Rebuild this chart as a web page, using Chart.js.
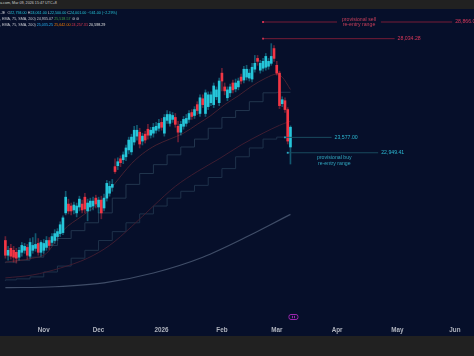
<!DOCTYPE html>
<html>
<head>
<meta charset="utf-8">
<script src="https://cdn.jsdelivr.net/npm/chart.js@4.4.1/dist/chart.umd.min.js"></script>
<style>
  html, body { margin:0; padding:0; background:#212121; width:474px; height:356px; overflow:hidden; }
  #wrap { position:absolute; left:0; top:9px; width:474px; height:327px; background:#060f2a; }
  canvas { display:block; }
  .hdr { position:absolute; left:0; white-space:nowrap; font-family:"Liberation Sans", Arial, sans-serif; font-size:3.7px; line-height:4px; color:#c9cbd1; }
</style>
</head>
<body>
<div id="wrap"><canvas id="c" width="474" height="327"></canvas></div>
<div class="hdr" style="top:1px;color:#d0d0d0">a.com, Mar 09, 2026 15:47 UTC+8</div>
<div class="hdr" style="top:11px">.JE &nbsp;<span>O</span><span style="color:#26c6da">22,794.00</span> <span>H</span><span style="color:#26c6da">24,061.00</span> <span>L</span><span style="color:#26c6da">22,500.00</span> <span>C</span><span style="color:#26c6da">24,001.00</span> <span style="color:#26c6da">−561.00 (−2.29%)</span></div>
<div class="hdr" style="top:17px">, EMA, 75, SMA, 200) <span style="color:#c9cbd1">24,935.07</span> <span style="color:#43a047">25,518.57</span> ⊘ ⊘</div>
<div class="hdr" style="top:22.5px">, EMA, 75, SMA, 200) <span style="color:#29b6f6">25,035.25</span> <span style="color:#f57c00">25,642.00</span> <span style="color:#e53950">24,257.31</span> <span style="color:#e0e0e0">20,598.29</span></div>
<script>
// ---------- DATA ----------
// daily candles, Oct 14 2025 .. Mar 09 2026 (trading days, index 0..104)
const openP = [19676,19173,19406,19339,19272,19107,19272,19339,19439,19140,
19339,19406,19574,19272,19339,19439,19676,19608,19676,19812,
19915,19949,20651,20974,20902,20758,20651,20866,20974,21229,
20722,20866,20902,21193,20866,21120,20830,21193,21376,21599,
22397,22436,22708,22669,22787,23064,22984,23385,23628,23792,
23425,23710,23916,23669,23751,23874,23957,24206,23751,24290,
24164,24332,24416,24040,23792,24040,24164,24332,24628,24501,
24971,24586,25231,24586,24884,25057,24971,25318,25057,26389,
25759,25274,25493,25937,25670,25759,26207,26072,26207,26162,
26117,26571,27081,26526,26617,26663,26710,26848,27553,26756,
26389,25014,25144,24756,23183];
const highP = [19812,19473,19540,19473,19406,19439,19608,19574,19540,19744,
19778,19915,19744,19676,19710,19812,19778,19915,20053,20088,
20332,20544,21450,21156,21011,21047,21011,21266,21120,21376,
21156,21193,21229,21303,21229,21266,21340,21862,21824,21900,
22708,22748,22826,22984,23264,23587,23710,24040,24081,23957,
23751,23833,24123,23998,24164,24206,24332,24374,24543,24713,
24671,24628,24586,24248,24248,24458,24543,24713,24756,24884,
25100,25405,25405,25626,25537,25537,25937,25759,26162,26617,
25937,25759,25892,26072,26117,26162,26344,26710,26756,26571,
26848,27222,27222,26988,27081,27316,27081,27792,27696,26941,
26480,25318,25274,24841,24061];
const lowP = [19074,19008,19041,18942,18910,19008,19140,19239,19041,19074,
19239,19306,19173,19140,19239,19339,19372,19506,19574,19676,
19812,19880,20580,20615,20580,20615,20509,20722,20651,20651,
20367,20722,20758,20830,20651,20438,20722,21083,21266,21450,
22128,22281,22397,22514,22630,22905,22866,23264,23466,23143,
23264,23345,23506,23547,23587,23751,23833,23874,23628,24164,
24040,24206,23998,23385,23669,23916,24040,24206,24332,24374,
24543,24458,24841,24458,24756,24927,24841,25187,24927,25581,
25405,25144,25318,25493,25537,25626,25892,25937,26072,26027,
25982,26435,26756,26389,26480,26526,26571,26756,26941,26298,
24798,24884,24628,23304,22500];
const closeP = [19173,19339,19140,19107,19074,19339,19506,19473,19173,19608,
19506,19540,19272,19608,19574,19676,19506,19812,19915,19984,
20227,20473,21229,20722,20722,20938,20902,21156,20758,20794,
21011,21083,21083,20974,21120,20651,21193,21749,21636,21711,
22204,22591,22552,22866,23143,23466,23587,23874,23874,23304,
23628,23466,23669,23874,23998,24040,24164,23998,24416,24543,
24543,24501,24123,23792,24123,24332,24374,24586,24458,24756,
24713,25274,24971,25493,25405,25405,25803,25626,26027,26027,
25581,25626,25759,25626,25937,26027,26027,26571,26571,26389,
26663,26848,26941,26848,26941,27175,26941,27175,27081,26389,
24927,25187,24756,23425,24001];

// moving averages read at selected bars (bar index -> value)
const emaFastIdx = [0,10,15,21,28,35,40,46,50,55,60,65,70,75,80,85,90,95,99,101,104];
const emaFastVal = [18942,19074,19239,20018,20544,21083,21749,22514,22905,23264,23506,23751,24123,24501,24971,25362,25803,26162,26344,26207,25642];
const emaSlowIdx = [0,10,20,30,38,46,54,62,70,78,86,94,100,104];
const emaSlowVal = [18426,18522,18746,19074,19506,20157,20902,21636,22204,22708,23264,23751,24081,24257];
const smaIdx = [0,18,36,54,72,89,96,104];
const smaVal = [18111,18142,18267,18586,19107,19846,20192,20598];
// weekly step lines (week start bar index -> value)
const weekIdx = [0,4,9,14,19,24,29,34,39,44,49,54,59,64,69,74,79,84,89,94,99,104];
const stepUpper = [18910,18942,19008,19107,19506,19744,20018,20297,20651,21193,21711,22128,22475,22866,23183,23506,23957,24416,24713,25100,25493,25518];
const stepLower = [18330,18362,18394,18458,18618,18812,19074,19339,19676,19984,20297,20615,20902,21193,21450,21674,21975,22320,22787,23143,23506,23587];

// horizontal levels
const levelValues = [28866.00, 28034.28, 23577.00, 22949.41];
const levelText   = ['28,866.00', '28,034.28', '23,577.00', '22,949.41'];
const levelStart  = [94, 94, 102, 103];
const levelEnd    = [163, 142, 119, 136];
const levelKind   = ['sell', 'sell', 'buy', 'buy'];
const sellGap = [121, 137];
const sellRangeText = ['provisional sell', 're-entry range'];
const buyRangeText = ['provisional buy', 're-entry range'];
const buyTextIdx = 120;

// axis ticks
const tickMonths = ['2025-11','2025-12','2026-01','2026-02','2026-03','2026-04','2026-05','2026-06'];
const tickTexts  = ['Nov','Dec','2026','Feb','Mar','Apr','May','Jun'];

// ---------- BUILD ----------
const labels = [];
{
  const d = new Date(Date.UTC(2025, 9, 14));
  const end = new Date(Date.UTC(2026, 5, 8));
  while (d <= end) {
    const w = d.getUTCDay();
    if (w !== 0 && w !== 6) labels.push(d.toISOString().slice(0, 10));
    d.setUTCDate(d.getUTCDate() + 1);
  }
}
const UP = '#26c6da', DOWN = '#f23645';
const UPW = 'rgba(38,198,218,0.4)', DOWNW = 'rgba(242,54,69,0.4)';
const isUp = closeP.map((c, i) => c >= openP[i]);
const pts = (idx, val) => idx.map((k, j) => ({ x: labels[k], y: val[j] }));

const lineDs = (data, color, extra) => Object.assign({
  type: 'line', data, borderColor: color, borderWidth: 1, pointRadius: 0,
  fill: false, order: 5, cubicInterpolationMode: 'monotone'
}, extra || {});

const levelDatasets = levelValues.map((v, k) => {
  let data;
  if (k === 0) {
    data = [
      { x: labels[levelStart[k]], y: v }, { x: labels[sellGap[0]], y: v },
      { x: labels[sellGap[0] + 1], y: null },
      { x: labels[sellGap[1]], y: v }, { x: labels[levelEnd[k]], y: v }
    ];
  } else {
    data = [{ x: labels[levelStart[k]], y: v }, { x: labels[levelEnd[k]], y: v }];
  }
  const sell = levelKind[k] === 'sell';
  return {
    type: 'line', data, spanGaps: false, order: 0,
    borderColor: sell ? 'rgba(140,30,56,0.85)' : 'rgba(28,80,100,0.9)',
    borderWidth: 1,
    pointRadius: data.map((p, j) => j === 0 ? 1.3 : 0),
    pointStyle: 'rect',
    pointBackgroundColor: sell ? '#d23350' : '#2aa9c2',
    pointBorderWidth: 0
  };
});

const overlay = {
  id: 'overlay',
  afterDatasetsDraw(chart) {
    const { ctx, scales: { x, y }, chartArea } = chart;
    ctx.save();
    ctx.font = '5.2px "Liberation Sans", Arial, sans-serif';
    ctx.textBaseline = 'middle';
    levelValues.forEach((v, k) => {
      const py = y.getPixelForValue(v);
      const px = x.getPixelForValue(levelEnd[k]) + 3;
      ctx.fillStyle = levelKind[k] === 'sell' ? '#d8385a' : '#2cb8d2';
      ctx.textAlign = 'left';
      ctx.fillText(levelText[k], px, py);
    });
    // sell range text in the gap
    ctx.textAlign = 'center';
    const gx = (x.getPixelForValue(sellGap[0]) + x.getPixelForValue(sellGap[1])) / 2;
    const gy = y.getPixelForValue(levelValues[0]);
    ctx.fillStyle = '#c93f5a';
    ctx.fillText(sellRangeText[0], gx, gy - 2.6);
    ctx.fillText(sellRangeText[1], gx, gy + 2.8);
    // buy range text below line
    const bx = x.getPixelForValue(buyTextIdx);
    const by = y.getPixelForValue(levelValues[3]);
    ctx.fillStyle = '#31a8c0';
    ctx.fillText(buyRangeText[0], bx, by + 5);
    ctx.fillText(buyRangeText[1], bx, by + 10.5);
    // session marker icon under the last bar
    const ix = x.getPixelForValue(closeP.length - 1) + 3;
    const iy = chartArea.bottom - 5;
    ctx.strokeStyle = '#9c27b0';
    ctx.fillStyle = '#9c27b0';
    ctx.lineWidth = 1;
    ctx.beginPath();
    if (ctx.roundRect) ctx.roundRect(ix - 4.5, iy - 2.5, 9, 5, 2); else ctx.rect(ix - 4.5, iy - 2.5, 9, 5);
    ctx.stroke();
    ctx.fillRect(ix - 1.5, iy - 1.2, 1, 2.4);
    ctx.fillRect(ix + 0.5, iy - 1.2, 1, 2.4);
    ctx.restore();
  }
};

new Chart(document.getElementById('c'), {
  type: 'bar',
  data: {
    labels,
    datasets: [
      // wicks
      { type: 'bar', data: lowP.map((l, i) => [l, highP[i]]), grouped: false, order: 2,
        barThickness: 1, backgroundColor: isUp.map(u => u ? UPW : DOWNW), borderWidth: 0 },
      // bodies
      { type: 'bar', data: openP.map((o, i) => [o, closeP[i]]), grouped: false, order: 1,
        barThickness: 2, minBarLength: 1, backgroundColor: isUp.map(u => u ? UP : DOWN), borderWidth: 0 },
      lineDs(pts(emaFastIdx, emaFastVal), 'rgba(72,34,50,0.95)'),
      lineDs(pts(emaSlowIdx, emaSlowVal), 'rgba(64,30,50,0.95)'),
      lineDs(pts(smaIdx, smaVal), 'rgba(66,80,106,0.95)', { borderWidth: 1.2 }),
      lineDs(pts(weekIdx, stepUpper), 'rgba(36,56,80,0.95)', { stepped: 'after', cubicInterpolationMode: 'default' }),
      lineDs(pts(weekIdx, stepLower), 'rgba(32,52,76,0.95)', { stepped: 'after', cubicInterpolationMode: 'default' }),
      ...levelDatasets
    ]
  },
  options: {
    responsive: false,
    devicePixelRatio: 1,
    animation: false,
    events: [],
    layout: { padding: 0 },
    plugins: { legend: { display: false }, tooltip: { enabled: false } },
    scales: {
      x: {
        type: 'category',
        offset: true,
        grid: { display: false, drawTicks: false },
        border: { display: false },
        afterFit(s) { s.height = 14; },
        ticks: {
          autoSkip: false, maxRotation: 0, minRotation: 0, padding: 4,
          color: '#b0b4be',
          font: { family: '"Liberation Sans", Arial, sans-serif', size: 6.3, weight: 'bold' },
          callback(v, i) {
            if (i === 0) return '';
            const cur = labels[i].slice(0, 7), prev = labels[i - 1].slice(0, 7);
            if (cur === prev) return '';
            const k = tickMonths.indexOf(cur);
            return k >= 0 ? tickTexts[k] : '';
          }
        }
      },
      y: {
        type: 'logarithmic',
        display: false,
        min: 17054,
        max: 29326
      }
    }
  },
  plugins: [overlay]
});
</script>
</body>
</html>
